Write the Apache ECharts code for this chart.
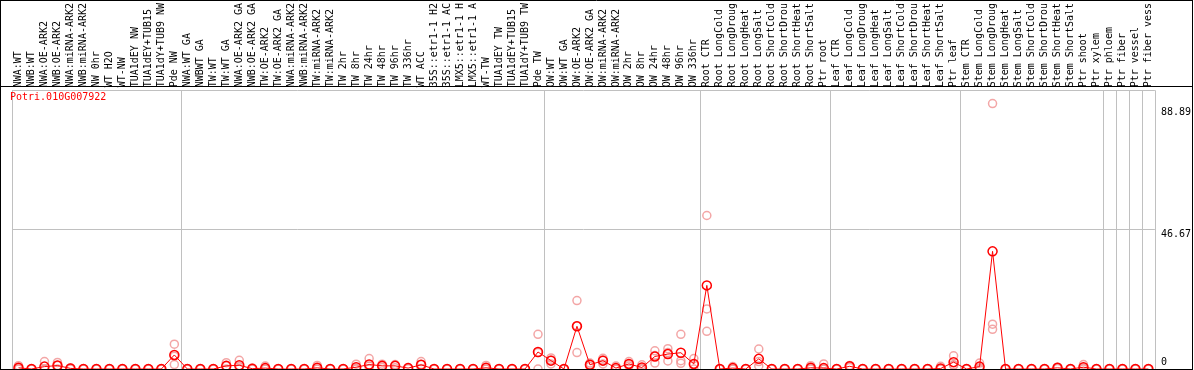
<!DOCTYPE html>
<html><head><meta charset="utf-8">
<script src="https://cdn.jsdelivr.net/npm/echarts@6/dist/echarts.min.js"></script>
<style>html,body{margin:0;padding:0;background:#fff}#c{width:1194px;height:370px}</style>
</head><body><div id="c"></div>
<script>
const geneId = 'Potri.010G007922';
const categories = ['NWA:WT','NWB:WT','NWA:OE-ARK2','NWB:OE-ARK2','NWA:miRNA-ARK2','NWB:miRNA-ARK2','NW 0hr','WT H2O','WT-NW','TUA1dEY NW','TUA1dEY+TUB15','TUA1dY+TUB9 NW','Pde NW',
'NWA:WT GA','NWBWT GA','TW:WT','TW:WT GA','NWA:OE-ARK2 GA','NWB:OE-ARK2 GA','TW:OE-ARK2','TW:OE-ARK2 GA','NWA:miRNA-ARK2','NWB:miRNA-ARK2','TW:miRNA-ARK2','TW:miRNA-ARK2','TW 2hr','TW 8hr','TW 24hr','TW 48hr','TW 96hr','TW 336hr','WT ACC','35S::etr1-1 H2','35S::etr1-1 AC','LMX5::etr1-1 H','LMX5::etr1-1 A','WT-TW','TUA1dEY TW','TUA1dEY+TUB15','TUA1dY+TUB9 TW','Pde TW',
'OW:WT','OW:WT GA','OW:OE-ARK2','OW:OE-ARK2 GA','OW:miRNA-ARK2','OW:miRNA-ARK2','OW 2hr','OW 8hr','OW 24hr','OW 48hr','OW 96hr','OW 336hr',
'Root CTR','Root LongCold','Root LongDroug','Root LongHeat','Root LongSalt','Root ShortCold','Root ShortDrou','Root ShortHeat','Root ShortSalt','Ptr root',
'Leaf CTR','Leaf LongCold','Leaf LongDroug','Leaf LongHeat','Leaf LongSalt','Leaf ShortCold','Leaf ShortDrou','Leaf ShortHeat','Leaf ShortSalt','Ptr leaf',
'Stem CTR','Stem LongCold','Stem LongDroug','Stem LongHeat','Stem LongSalt','Stem ShortCold','Stem ShortDrou','Stem ShortHeat','Stem ShortSalt','Ptr shoot','Ptr xylem',
'Ptr phloem','Ptr fiber','Ptr vessel','Ptr fiber vess'];
// index of first category of each group (separator drawn before it)
const groupStarts = [0, 13, 41, 53, 63, 73, 84, 85, 86, 87];

const means = [0.4,0,0.8,1.15,0.2,0,0,0,0,0,0,0,4.7,
0,0,0,1.05,1.25,0.1,0.3,0,0,0,0.4,0,0,0.6,1.5,1.05,1.05,0.3,1.4,0,0,0,0,0.4,0,0,0,5.7,
2.8,0,14.3,1.4,2.8,0.3,1.7,0.5,4.2,5.0,5.45,1.7,
28.0,0,0.3,0,3.4,0,0,0,0.4,0.3,
0,0.9,0,0,0,0,0,0,0.15,2.3,
0,0.8,39.4,0,0,0,0,0.4,0,0.6,0,
0,0,0,0];
const rep1 = [1.1,0,2.5,2.2,0.4,0,0,0,0,0,0,0,8.3,
0,0,0,2.1,2.9,0.3,1.0,0,0,0,1.2,0,0,1.6,3.5,1.6,1.5,0.5,2.5,0,0,0,0,1.2,0,0,0,11.6,
3.7,0,22.9,2.0,3.6,1.0,2.5,1.4,6.1,6.8,11.6,3.5,
51.4,0,0.8,0,6.7,0,0,0,1.1,1.7,
0,1.2,0,0,0,0,0,0,0.9,4.4,
0,2.0,88.89,0,0,0,0,0.6,0,1.5,0,
0,0,0,0];
const rep2 = [0.1,0,0,1.2,0.2,0,0,0,0,0,0,0,4.3,
0,0,0,1.0,0.8,0,0,0,0,0,0,0,0,0.2,1.0,1.0,1.2,0.3,1.5,0,0,0,0,0,0,0,0,5.5,
3.0,0,14.5,1.4,3.0,0,1.6,0.2,4.5,5.5,2.8,1.6,
20.1,0,0,0,2.5,0,0,0,0.2,0,
0,0.9,0,0,0,0,0,0,0,1.4,
0,0.4,15.0,0,0,0,0,0.4,0,0.3,0,
0,0,0,0];
const rep3 = [0,0,0,0,0,0,0,0,0,0,0,0,1.5,
0,0,0,0,0,0,0,0,0,0,0,0,0,0,0,0.5,0.4,0.1,0.2,0,0,0,0,0,0,0,0,0,
1.7,0,5.5,0.8,1.7,0,1.0,0,2.0,2.7,1.9,0,
12.6,0,0,0,1.0,0,0,0,0,0,
0,0.5,0,0,0,0,0,0,0,1.2,
0,0,13.3,0,0,0,0,0.2,0,0,0,
0,0,0,0];
const yTickValues = [0, 46.67, 88.89];
const yTickLabels = ['0', '46.67', '88.89'];
const yMax = 93.33;

const MONO = 'DejaVu Sans Mono';
const RED = '#ff0000';
const PINK = '#f09090';
const GRIDC = '#c0c0c0';
const isGroupStart = (idx) => groupStarts.indexOf(idx) >= 0;

const chart = echarts.init(document.getElementById('c'), null, {renderer: 'canvas'});
const repSeries = [rep1, rep2, rep3].map((r, k) => ({
  type: 'scatter', name: 'rep' + (k + 1), data: r,
  symbol: 'circle', symbolSize: 8, z: 2,
  itemStyle: {color: 'rgba(0,0,0,0)', borderColor: PINK, borderWidth: 1.5},
  silent: true
}));
chart.setOption({
  animation: false,
  backgroundColor: '#fff',
  title: {text: geneId, left: 10, top: 92, padding: 0,
    textStyle: {fontSize: 10, fontFamily: MONO, color: RED, fontWeight: 'normal'}},
  grid: {left: 12, width: 1144, top: 86, bottom: 1, containLabel: false},
  xAxis: {
    type: 'category', data: categories, position: 'top', boundaryGap: true,
    axisLine: {show: false},
    axisTick: {show: true, interval: isGroupStart, length: 86, lineStyle: {color: GRIDC, width: 1}},
    axisLabel: {interval: 0, rotate: 90, margin: 3, fontSize: 10, fontFamily: MONO, color: '#000'},
    splitLine: {show: true, interval: isGroupStart, lineStyle: {color: GRIDC, width: 1}}
  },
  yAxis: [{
    type: 'value', min: 0, max: yMax, interval: yMax / 2, position: 'right',
    axisLine: {show: false}, axisTick: {show: false}, axisLabel: {show: false},
    splitLine: {show: true, lineStyle: {color: GRIDC, width: 1}}
  }, {
    type: 'value', min: 0, max: yMax, position: 'right',
    axisLine: {show: false}, axisTick: {show: false}, splitLine: {show: false},
    axisLabel: {
      customValues: yTickValues, margin: 6, fontSize: 10, fontFamily: MONO, color: '#000',
      formatter: (v) => {
        const i = yTickValues.indexOf(v);
        const key = i === 0 ? 'z' : (i === 1 ? 'm' : 't');
        return '{' + key + '|' + yTickLabels[i] + '}';
      },
      rich: {
        z: {fontSize: 10, fontFamily: MONO, color: '#000', padding: [0, 0, 13, 0]},
        m: {fontSize: 10, fontFamily: MONO, color: '#000', padding: [10, 0, 0, 0]},
        t: {fontSize: 10, fontFamily: MONO, color: '#000', padding: [17, 0, 0, 0]}
      }
    }
  }],
  series: repSeries.concat([{
    type: 'line', name: 'mean', data: means, z: 3,
    symbol: 'circle', symbolSize: 9, showAllSymbol: true,
    lineStyle: {color: RED, width: 1},
    itemStyle: {color: 'rgba(0,0,0,0)', borderColor: RED, borderWidth: 1.5},
    silent: true
  }]),
  graphic: [
    {type: 'line', z: 100, shape: {x1: 0, y1: 86.5, x2: 1193, y2: 86.5}, style: {stroke: '#000', lineWidth: 1}},
    {type: 'line', z: 100, shape: {x1: 0, y1: 369.5, x2: 1193, y2: 369.5}, style: {stroke: '#000', lineWidth: 1}},
    {type: 'line', z: 100, shape: {x1: 0, y1: 0.5, x2: 1193, y2: 0.5}, style: {stroke: '#000', lineWidth: 1}},
    {type: 'line', z: 100, shape: {x1: 1192.5, y1: 0, x2: 1192.5, y2: 370}, style: {stroke: '#000', lineWidth: 1}},
    {type: 'line', z: 100, shape: {x1: 0.5, y1: 0, x2: 0.5, y2: 370}, style: {stroke: '#000', lineWidth: 1}}
  ]
});
</script></body></html>
